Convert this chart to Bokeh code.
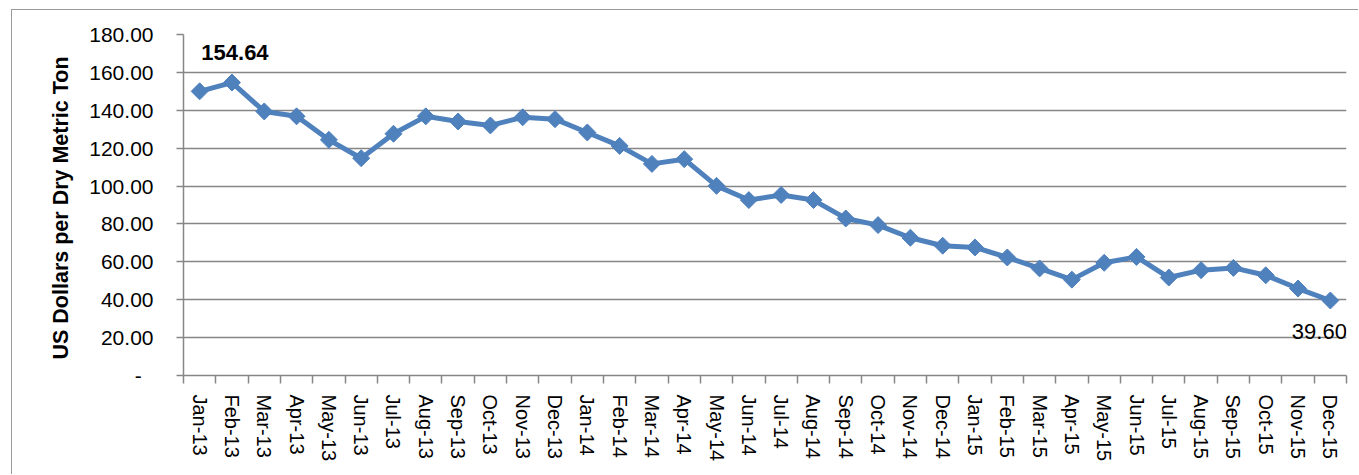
import math
from bokeh.plotting import figure
from bokeh.models import (Range1d, FixedTicker, CustomJSTickFormatter, Label,
                          ColumnDataSource)
from bokeh.embed import file_html
from bokeh.resources import INLINE

months = ["Jan-13", "Feb-13", "Mar-13", "Apr-13", "May-13", "Jun-13",
          "Jul-13", "Aug-13", "Sep-13", "Oct-13", "Nov-13", "Dec-13",
          "Jan-14", "Feb-14", "Mar-14", "Apr-14", "May-14", "Jun-14",
          "Jul-14", "Aug-14", "Sep-14", "Oct-14", "Nov-14", "Dec-14",
          "Jan-15", "Feb-15", "Mar-15", "Apr-15", "May-15", "Jun-15",
          "Jul-15", "Aug-15", "Sep-15", "Oct-15", "Nov-15", "Dec-15"]

prices = [150.0, 154.64, 139.4, 136.8, 124.4, 114.7,
          127.6, 136.8, 134.1, 132.0, 136.3, 135.3,
          128.3, 121.2, 111.7, 114.2, 100.1, 92.6,
          95.3, 92.6, 82.9, 79.4, 72.7, 68.5,
          67.6, 62.3, 56.5, 50.6, 59.5, 62.6,
          51.7, 55.6, 56.8, 52.9, 45.9, 39.60]

y_ticks = [0, 20, 40, 60, 80, 100, 120, 140, 160, 180]

y_title = "US Dollars  per Dry Metric Ton"

BLUE = "#4F81BD"
GRAY = "#868686"
FONT = "Liberation Sans"

xs = [i + 0.5 for i in range(len(months))]
src = ColumnDataSource(dict(x=xs, y=prices, m=months))

# chart box starts at page (12, 10); plot frame spans page x 184..1345, y 35..375
p = figure(width=1347, height=465, output_backend="svg", toolbar_location=None,
           x_range=Range1d(0, len(months)), y_range=Range1d(y_ticks[0], y_ticks[-1]),
           min_border_left=171, min_border_right=13, min_border_top=24,
           min_border_bottom=100)
p.styles = {"margin-left": "11px", "margin-top": "9px",
            "border-left": "1px solid #9A9A9A", "border-top": "1px solid #9A9A9A"}
p.outline_line_color = None
p.background_fill_color = "white"
p.border_fill_color = "white"

# y axis
ya = p.yaxis[0]
ya.ticker = FixedTicker(ticks=y_ticks, minor_ticks=[])
ya.formatter = CustomJSTickFormatter(
    code="return tick == 0 ? '-\u00a0\u00a0' : tick.toFixed(2);")
ya.axis_line_color = GRAY
ya.axis_line_width = 1.5
ya.major_tick_line_color = GRAY
ya.major_tick_line_width = 1.5
ya.major_tick_out = 7
ya.major_tick_in = 0
ya.minor_tick_line_color = None
ya.major_label_standoff = 23
ya.major_label_text_font = FONT
ya.major_label_text_font_size = "21px"
ya.major_label_text_color = "black"
ya.axis_label = y_title
ya.axis_label_text_font = FONT
ya.axis_label_text_font_style = "bold"
ya.axis_label_text_font_size = "21.5px"
ya.axis_label_text_color = "black"
ya.axis_label_standoff = 13

# x axis: labels at category centres, tick marks between categories
xa = p.xaxis[0]
xa.ticker = FixedTicker(ticks=xs, minor_ticks=list(range(len(months) + 1)))
xa.formatter = CustomJSTickFormatter(args=dict(labels=months),
                                     code="return labels[Math.floor(tick)];")
xa.axis_line_color = GRAY
xa.axis_line_width = 1.5
xa.major_tick_line_color = None
xa.major_tick_out = 0
xa.major_tick_in = 0
xa.minor_tick_line_color = GRAY
xa.minor_tick_line_width = 1.5
xa.minor_tick_out = 8
xa.minor_tick_in = 0
xa.major_label_orientation = "vertical"
xa.major_label_standoff = 11
xa.major_label_text_font = FONT
xa.major_label_text_font_size = "20px"
xa.major_label_text_color = "black"

p.xgrid.visible = False
p.ygrid.grid_line_color = GRAY
p.ygrid.grid_line_width = 1.5

p.line("x", "y", source=src, line_color=BLUE, line_width=5)
p.scatter("x", "y", source=src, marker="square", angle=math.pi / 4, size=12,
          fill_color=BLUE, line_color=BLUE)

# data labels: max and last values
imax = prices.index(max(prices))
ilast = len(prices) - 1
p.add_layout(Label(x=xs[imax], y=prices[imax], text=f"{prices[imax]:.2f}",
                   text_font=FONT, text_font_size="22px", text_font_style="bold",
                   text_align="center", text_baseline="alphabetic",
                   x_offset=3, y_offset=30, text_color="black"))
p.add_layout(Label(x=xs[ilast], y=prices[ilast], text=f"{prices[ilast]:.2f}",
                   text_font=FONT, text_font_size="22px",
                   text_align="center", text_baseline="alphabetic",
                   x_offset=-11, y_offset=-31, text_color="black"))

open("out.html", "w").write(file_html(p, INLINE))
